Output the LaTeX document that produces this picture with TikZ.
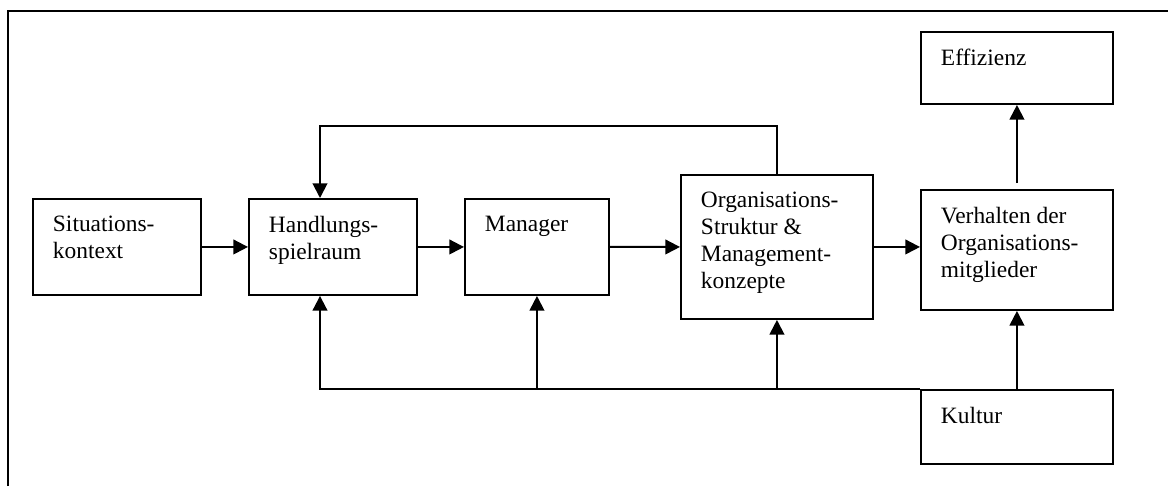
\documentclass[tikz,border=0pt]{standalone}
\usepackage{fontspec}
\setmainfont{Liberation Serif}
\usepackage{tikz}
\usetikzlibrary{arrows.meta}
\tikzset{
  blk/.style={draw, line width=1pt, inner sep=0pt, anchor=north west},
  lbl/.style={anchor=north west, inner sep=0pt, align=left, font=\fontsize{12pt}{13.8pt}\selectfont},
}
\begin{document}
\begin{tikzpicture}[->,>={Triangle[length=7.5pt,width=7.5pt]}, line width=1pt,
     x=0.018cm, y=-0.018cm]
    \useasboundingbox (0,0) rectangle (1168,486);
    \draw[-] (8,486) -- (8,11) -- (1168,11);
    % boxes
    \node[blk, minimum width=3.024cm, minimum height=1.728cm] (sit) at (32,198) {};
    \node[blk, minimum width=3.024cm, minimum height=1.728cm] (hand) at (248,198) {};
    \node[blk, minimum width=2.592cm, minimum height=1.728cm] (man) at (464,198) {};
    \node[blk, minimum width=3.456cm, minimum height=2.592cm] (org) at (680,174) {};
    \node[blk, minimum width=3.456cm, minimum height=2.16cm] (verh) at (920,189) {};
    \node[blk, minimum width=3.456cm, minimum height=1.296cm] (eff) at (920,31) {};
    \node[blk, minimum width=3.456cm, minimum height=1.332cm] (kult) at (920,389) {};
    % texts
    \node[lbl] (sit-t) at (52,215) {Situations-\\kontext};
    \node[lbl] (hand-t) at (268,215) {Handlungs-\\spielraum};
    \node[lbl] (man-t) at (484,215) {Manager};
    \node[lbl] (org-t) at (700,191) {Organisations-\\Struktur \&\\Management-\\konzepte};
    \node[lbl] (verh-t) at (940,206) {Verhalten der\\Organisations-\\mitglieder};
    \node[lbl] (eff-t) at (940,48) {Effizienz};
    \node[lbl] (kult-t) at (940,406) {Kultur};
    % connectors
    \coordinate (fb) at (320,126);
    \coordinate (bus) at (320,389);
    \draw (sit) -- (hand);
    \draw (hand) -- (man);
    \draw (man) -- (org);
    \draw (org.east) -- (org.east -| verh.west);
    \draw (org.north) |- (fb) -- (fb |- hand.north);
    \draw (kult.north west) -- (bus) -- (bus |- hand.south);
    \draw (man.south |- bus) -- (man.south);
    \draw (org.south |- bus) -- (org.south);
    \draw (kult) -- (verh);
    \draw[shorten <=3pt] (verh) -- (eff);
\end{tikzpicture}
\end{document}
